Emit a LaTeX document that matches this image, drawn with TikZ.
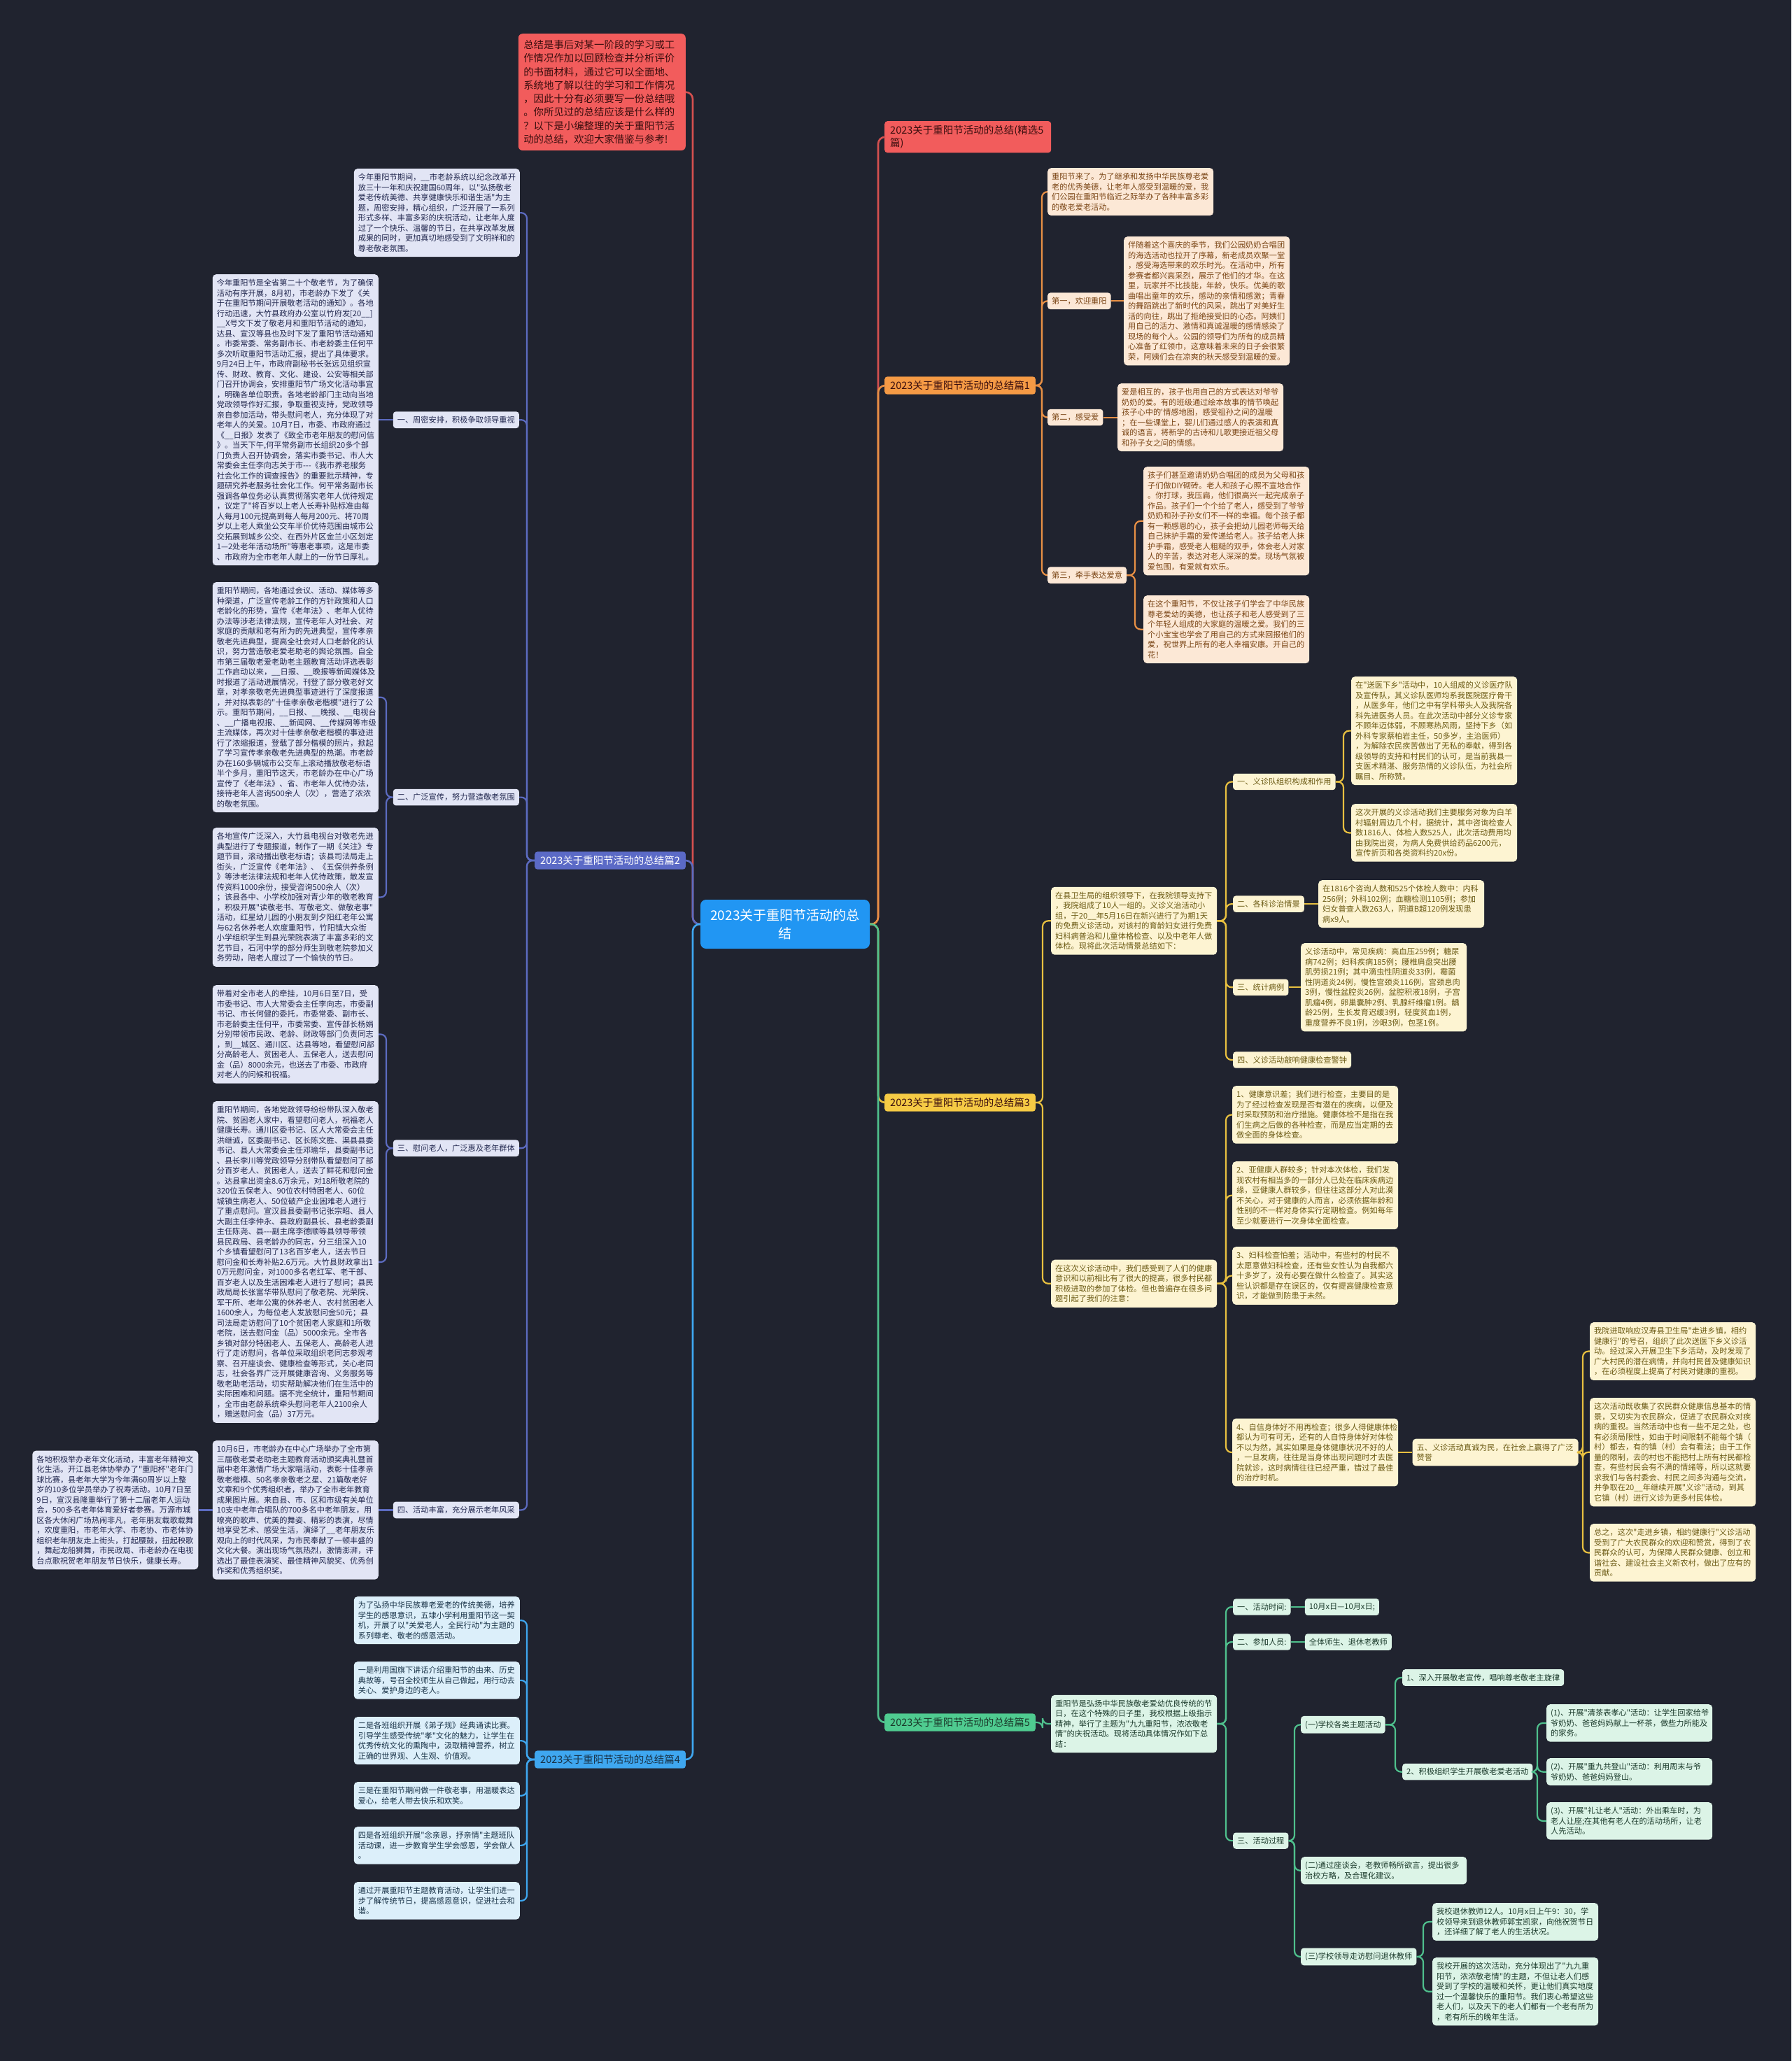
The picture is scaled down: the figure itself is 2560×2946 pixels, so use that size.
\documentclass[tikz,border=0pt]{standalone}
\usepackage{fontspec}
\newfontfamily\cjk{Noto Sans CJK SC}
\usetikzlibrary{calc}
\definecolor{bgc}{HTML}{20232F}
\definecolor{ccf}{HTML}{2196F3}
\definecolor{redf}{HTML}{F25C5C}
\definecolor{redt}{HTML}{3A0E0E}
\definecolor{redl}{HTML}{D4504F}
\definecolor{c2m}{HTML}{5B6AC6}
\definecolor{c2f}{HTML}{E2E5F5}
\definecolor{c2t}{HTML}{22284F}
\definecolor{c2l}{HTML}{5C6BC0}
\definecolor{c4m}{HTML}{3FA7F0}
\definecolor{c4f}{HTML}{DCEFFA}
\definecolor{c4t}{HTML}{183247}
\definecolor{c4l}{HTML}{3FA7F0}
\definecolor{c1m}{HTML}{F59A45}
\definecolor{c1f}{HTML}{FCE8D6}
\definecolor{c1t}{HTML}{7A4515}
\definecolor{c1l}{HTML}{E89045}
\definecolor{c3m}{HTML}{F6CB45}
\definecolor{c3f}{HTML}{FDF4D2}
\definecolor{c3t}{HTML}{6B5A14}
\definecolor{c3l}{HTML}{E8C040}
\definecolor{c5m}{HTML}{4FCB90}
\definecolor{c5f}{HTML}{DCF4E7}
\definecolor{c5t}{HTML}{1B3A2B}
\definecolor{c5l}{HTML}{4FC08D}
\tikzset{
  tb/.style={rounded corners=5pt, inner xsep=6pt, inner ysep=7pt, text width=225pt, align=left, font=\cjk\fontsize{11.2}{14.5}\selectfont},
  lb/.style={rounded corners=4pt, inner xsep=6pt, inner ysep=6.5pt, align=left, font=\cjk\fontsize{11.2}{14.5}\selectfont},
  mb/.style={rounded corners=4pt, inner xsep=8pt, inner ysep=6pt, align=left, font=\cjk\fontsize{14.5}{18}\selectfont},
  rb/.style={rounded corners=6pt, fill=redf, text=redt, inner xsep=7.5pt, inner ysep=9pt, text width=224pt, align=left, font=\cjk\fontsize{14.4}{19.3}\selectfont},
  g2/.style={fill=c2f, text=c2t},
  g4/.style={fill=c4f, text=c4t},
  g1/.style={fill=c1f, text=c1t},
  g3/.style={fill=c3f, text=c3t},
  g5/.style={fill=c5f, text=c5t},
  cn/.style={line width=2.2pt, rounded corners=8pt},
  mcn/.style={line width=2.6pt, rounded corners=10pt},
}
\newcommand{\lconn}[4]{\draw[#4] (#1.west) -- (#1.west -| #3) -- (#2.east -| #3) -- (#2.east);}
\newcommand{\rconn}[4]{\draw[#4] (#1.east) -- (#1.east -| #3) -- (#2.west -| #3) -- (#2.west);}
\begin{document}
\begin{tikzpicture}[x=1pt,y=-1pt]
\fill[bgc] (0,0) rectangle (2560,2946);
\useasboundingbox (0,0) rectangle (2560,2946);
% bus coordinates
\coordinate (LB) at (990,0);
\coordinate (RB) at (1255,0);
\coordinate (B2) at (753,0);
\coordinate (B2s) at (552,0);
\coordinate (B4) at (753,0);
\coordinate (B1) at (1489,0);
\coordinate (B1c) at (1622,0);
\coordinate (XL1) at (1497,0);
\coordinate (B3) at (1490,0);
\coordinate (XA) at (1502,0);
\coordinate (B3a) at (1752,0);
\coordinate (XL3) at (1762,0);
\coordinate (B3a1) at (1920,0);
\coordinate (B3e) at (2262,0);
\coordinate (B5m) at (1490,0);
\coordinate (B5) at (1752,0);
\coordinate (B5c) at (1850,0);
\coordinate (X5c) at (1859,0);
\coordinate (B5c1) at (1994,0);
\coordinate (X5c1) at (2004,0);
\coordinate (B5p) at (2197,0);
\coordinate (B5h) at (2034,0);

% ---------- center ----------
\node[fill=ccf, text=white, rounded corners=8pt, minimum width=242pt, minimum height=70pt, align=center, font=\cjk\fontsize{19}{26}\selectfont] (c) at (1122,1321) {2023关于重阳节活动的总\\结};

% ---------- red intro (left) ----------
\node[rb, anchor=north east] (n0) at (980,48) {总结是事后对某一阶段的学习或工\\作情况作加以回顾检查并分析评价\\的书面材料，通过它可以全面地、\\系统地了解以往的学习和工作情况\\，因此十分有必须要写一份总结哦\\。你所见过的总结应该是什么样的\\？以下是小编整理的关于重阳节活\\动的总结，欢迎大家借鉴与参考!};

% ---------- 篇2 ----------
\node[mb, fill=c2m, text=white, anchor=west] (n2) at (764,1230) {2023关于重阳节活动的总结篇2};
\node[tb,g2,anchor=north east] (n2i) at (743,241) {今年重阳节期间，\_\_市老龄系统以纪念改革开\\放三十一年和庆祝建国60周年，以"弘扬敬老\\爱老传统美德、共享健康快乐和谐生活"为主\\题，周密安排，精心组织，广泛开展了一系列\\形式多样、丰富多彩的庆祝活动，让老年人度\\过了一个快乐、温馨的节日，在共享改革发展\\成果的同时，更加真切地感受到了文明祥和的\\尊老敬老氛围。};
\node[tb,g2,anchor=north east] (n2a1) at (541,392) {今年重阳节是全省第二十个敬老节，为了确保\\活动有序开展，8月初，市老龄办下发了《关\\于在重阳节期间开展敬老活动的通知》。各地\\行动迅速，大竹县政府办公室以竹府发[20\_\_]\\\_\_X号文下发了敬老月和重阳节活动的通知，\\达县、宣汉等县也及时下发了重阳节活动通知\\。市委常委、常务副市长、市老龄委主任何平\\多次听取重阳节活动汇报，提出了具体要求。\\9月24日上午，市政府副秘书长张远见组织宣\\传、财政、教育、文化、建设、公安等相关部\\门召开协调会，安排重阳节广场文化活动事宜\\，明确各单位职责。各地老龄部门主动向当地\\党政领导作好汇报，争取重视支持，党政领导\\亲自参加活动，带头慰问老人，充分体现了对\\老年人的关爱。10月7日，市委、市政府通过\\《\_\_日报》发表了《致全市老年朋友的慰问信\\》。当天下午,何平常务副市长组织20多个部\\门负责人召开协调会，落实市委书记、市人大\\常委会主任李向志关于市---《我市养老服务\\社会化工作的调查报告》的重要批示精神，专\\题研究养老服务社会化工作。何平常务副市长\\强调各单位务必认真贯彻落实老年人优待规定\\，议定了"将百岁以上老人长寿补贴标准由每\\人每月100元提高到每人每月200元、将70周\\岁以上老人乘坐公交车半价优待范围由城市公\\交拓展到城乡公交、在西外片区金兰小区划定\\1—2处老年活动场所"等惠老事项，这是市委\\、市政府为全市老年人献上的一份节日厚礼。};
\node[lb,g2,anchor=east] (n2a) at ($(n2a1.east)+(201,0)$) {一、周密安排，积极争取领导重视};
\node[tb,g2,anchor=north east] (n2b1) at (541,832) {重阳节期间，各地通过会议、活动、媒体等多\\种渠道，广泛宣传老龄工作的方针政策和人口\\老龄化的形势，宣传《老年法》、老年人优待\\办法等涉老法律法规，宣传老年人对社会、对\\家庭的贡献和老有所为的先进典型，宣传孝亲\\敬老先进典型，提高全社会对人口老龄化的认\\识，努力营造敬老爱老助老的舆论氛围。自全\\市第三届敬老爱老助老主题教育活动评选表彰\\工作启动以来，\_\_日报、\_\_晚报等新闻媒体及\\时报道了活动进展情况，刊登了部分敬老好文\\章，对孝亲敬老先进典型事迹进行了深度报道\\，并对拟表彰的"十佳孝亲敬老楷模"进行了公\\示。重阳节期间，\_\_日报、\_\_晚报、\_\_电视台\\、\_\_广播电视报、\_\_新闻网、\_\_传媒网等市级\\主流媒体，再次对十佳孝亲敬老楷模的事迹进\\行了浓缩报道，登载了部分楷模的照片，掀起\\了学习宣传孝亲敬老先进典型的热潮。市老龄\\办在160多辆城市公交车上滚动播放敬老标语\\半个多月，重阳节这天，市老龄办在中心广场\\宣传了《老年法》、省、市老年人优待办法，\\接待老年人咨询500余人（次），营造了浓浓\\的敬老氛围。};
\node[tb,g2,anchor=north east] (n2b2) at (541,1183) {各地宣传广泛深入，大竹县电视台对敬老先进\\典型进行了专题报道，制作了一期《关注》专\\题节目，滚动播出敬老标语；该县司法局走上\\街头，广泛宣传《老年法》、《五保供养条例\\》等涉老法律法规和老年人优待政策，散发宣\\传资料1000余份，接受咨询500余人（次）\\；该县各中、小学校加强对青少年的敬老教育\\，积极开展"读敬老书、写敬老文、做敬老事"\\活动，红星幼儿园的小朋友到夕阳红老年公寓\\与62名休养老人欢度重阳节，竹阳镇大众街\\小学组织学生到县光荣院表演了丰富多彩的文\\艺节目，石河中学的部分师生到敬老院参加义\\务劳动，陪老人度过了一个愉快的节日。};
\coordinate (m2b) at ($(n2b1.east)!0.5!(n2b2.east)$);
\node[lb,g2,anchor=east] (n2b) at ($(m2b)+(201,0)$) {二、广泛宣传，努力营造敬老氛围};
\node[tb,g2,anchor=north east] (n2c1) at (541,1408) {带着对全市老人的牵挂，10月6日至7日，受\\市委书记、市人大常委会主任李向志，市委副\\书记、市长何健的委托，市委常委、副市长、\\市老龄委主任何平，市委常委、宣传部长杨娟\\分别带领市民政、老龄、财政等部门负责同志\\，到\_\_城区、通川区、达县等地，看望慰问部\\分高龄老人、贫困老人、五保老人，送去慰问\\金（品）8000余元，也送去了市委、市政府\\对老人的问候和祝福。};
\node[tb,g2,anchor=north east] (n2c2) at (541,1574) {重阳节期间，各地党政领导纷纷带队深入敬老\\院、贫困老人家中，看望慰问老人，祝福老人\\健康长寿。通川区委书记、区人大常委会主任\\洪继诚，区委副书记、区长陈文胜、渠县县委\\书记、县人大常委会主任邓瑜华，县委副书记\\、县长李川等党政领导分别带队看望慰问了部\\分百岁老人、贫困老人，送去了鲜花和慰问金\\。达县拿出资金8.6万余元，对18所敬老院的\\320位五保老人、90位农村特困老人、60位\\城镇生病老人、50位破产企业困难老人进行\\了重点慰问。宣汉县县委副书记张宗昭、县人\\大副主任李仲永、县政府副县长、县老龄委副\\主任陈尧、县---副主席李德顺等县领导带领\\县民政局、县老龄办的同志，分三组深入10\\个乡镇看望慰问了13名百岁老人，送去节日\\慰问金和长寿补贴2.6万元。大竹县财政拿出1\\0万元慰问金，对1000多名老红军、老干部、\\百岁老人以及生活困难老人进行了慰问；县民\\政局局长张富华带队慰问了敬老院、光荣院、\\军干所、老年公寓的休养老人、农村贫困老人\\1600余人，为每位老人发放慰问金50元；县\\司法局走访慰问了10个贫困老人家庭和1所敬\\老院，送去慰问金（品）5000余元。全市各\\乡镇对部分特困老人、五保老人、高龄老人进\\行了走访慰问，各单位采取组织老同志参观考\\察、召开座谈会、健康检查等形式，关心老同\\志，社会各界广泛开展健康咨询、义务服务等\\敬老助老活动，切实帮助解决他们在生活中的\\实际困难和问题。据不完全统计，重阳节期间\\，全市由老龄系统牵头慰问老年人2100余人\\，赠送慰问金（品）37万元。};
\coordinate (m2c) at ($(n2c1.east)!0.5!(n2c2.east)$);
\node[lb,g2,anchor=east] (n2c) at ($(m2c)+(201,0)$) {三、慰问老人，广泛惠及老年群体};
\node[tb,g2,anchor=north east] (n2d1) at (541,2059) {10月6日，市老龄办在中心广场举办了全市第\\三届敬老爱老助老主题教育活动颁奖典礼暨首\\届中老年激情广场大家唱活动，表彰十佳孝亲\\敬老楷模、50名孝亲敬老之星、21篇敬老好\\文章和9个优秀组织者，举办了全市老年教育\\成果图片展。来自县、市、区和市级有关单位\\10支中老年合唱队的700多名中老年朋友，用\\嘹亮的歌声、优美的舞姿、精彩的表演，尽情\\地享受艺术、感受生活，演绎了\_\_老年朋友乐\\观向上的时代风采，为市民奉献了一顿丰盛的\\文化大餐。演出现场气氛热烈，激情澎湃，评\\选出了最佳表演奖、最佳精神风貌奖、优秀创\\作奖和优秀组织奖。};
\node[tb,g2,anchor=east] (n2d2) at ($(n2d1.west)+(-20,0)$) {各地积极举办老年文化活动，丰富老年精神文\\化生活。开江县老体协举办了"重阳杯"老年门\\球比赛，县老年大学为今年满60周岁以上整\\岁的10多位学员举办了祝寿活动。10月7日至\\9日，宣汉县隆重举行了第十二届老年人运动\\会，500多名老年体育爱好者参赛。万源市城\\区各大休闲广场热闹非凡，老年朋友载歌载舞\\，欢度重阳，市老年大学、市老协、市老体协\\组织老年朋友走上街头，打起腰鼓，扭起秧歌\\，舞起龙船狮舞，市民政局、市老龄办在电视\\台点歌祝贺老年朋友节日快乐，健康长寿。};
\node[lb,g2,anchor=east] (n2d) at ($(n2d1.east)+(201,0)$) {四、活动丰富，充分展示老年风采};

% ---------- 篇4 ----------
\node[mb, fill=c4m, text=c4t, anchor=west] (n4) at (764,2515) {2023关于重阳节活动的总结篇4};
\node[tb,g4,anchor=north east] (n4a) at (743,2282) {为了弘扬中华民族尊老爱老的传统美德，培养\\学生的感恩意识，五埭小学利用重阳节这一契\\机，开展了以"关爱老人，全民行动"为主题的\\系列尊老、敬老的感恩活动。};
\node[tb,g4,anchor=north east] (n4b) at (743,2375) {一是利用国旗下讲话介绍重阳节的由来、历史\\典故等，号召全校师生从自己做起，用行动去\\关心、爱护身边的老人。};
\node[tb,g4,anchor=north east] (n4c) at (743,2454) {二是各班组织开展《弟子规》经典诵读比赛。\\引导学生感受传统"孝"文化的魅力，让学生在\\优秀传统文化的熏陶中，汲取精神营养，树立\\正确的世界观、人生观、价值观。};
\node[tb,g4,anchor=north east] (n4d) at (743,2547) {三是在重阳节期间做一件敬老事，用温暖表达\\爱心，给老人带去快乐和欢笑。};
\node[tb,g4,anchor=north east] (n4e) at (743,2611) {四是各班组织开展"念亲恩，抒亲情"主题班队\\活动课，进一步教育学生学会感恩，学会做人\\。};
\node[tb,g4,anchor=north east] (n4f) at (743,2690) {通过开展重阳节主题教育活动，让学生们进一\\步了解传统节日，提高感恩意识，促进社会和\\谐。};

% ---------- right: 精选 ----------
\node[mb, fill=redf, text=redt, anchor=north west, text width=222pt] (n0r) at (1264,173) {2023关于重阳节活动的总结(精选5\\篇)};

% ---------- 篇1 ----------
\node[mb, fill=c1m, text=redt, anchor=west] (n1) at (1264,551) {2023关于重阳节活动的总结篇1};
\node[tb,g1,anchor=north west] (n1i) at (1497,240) {重阳节来了。为了继承和发扬中华民族尊老爱\\老的优秀美德，让老年人感受到温暖的爱，我\\们公园在重阳节临近之际举办了各种丰富多彩\\的敬老爱老活动。};
\node[tb,g1,anchor=north west] (n1a1) at (1606,338) {伴随着这个喜庆的季节，我们公园奶奶合唱团\\的海选活动也拉开了序幕，新老成员欢聚一堂\\，感受海选带来的欢乐时光。在活动中，所有\\参赛者都兴高采烈，展示了他们的才华。在这\\里，玩家并不比技能，年龄，快乐。优美的歌\\曲唱出童年的欢乐，感动的亲情和感激；青春\\的舞蹈跳出了新时代的风采，跳出了对美好生\\活的向往，跳出了拒绝接受旧的心态。阿姨们\\用自己的活力、激情和真诚温暖的感情感染了\\现场的每个人。公园的领导们为所有的成员精\\心准备了红领巾，这意味着未来的日子会很繁\\荣，阿姨们会在凉爽的秋天感受到温暖的爱。};
\node[lb,g1,anchor=west] (n1a) at (n1a1.west -| XL1) {第一，欢迎重阳};
\node[tb,g1,anchor=north west] (n1b1) at (1597,548) {爱是相互的，孩子也用自己的方式表达对爷爷\\奶奶的爱。有的班级通过绘本故事的情节唤起\\孩子心中的'情感地图，感受祖孙之间的温暖\\；在一些课堂上，婴儿们通过感人的表演和真\\诚的语言，将新学的古诗和儿歌更接近祖父母\\和孙子女之间的情感。};
\node[lb,g1,anchor=west] (n1b) at (n1b1.west -| XL1) {第二，感受爱};
\node[tb,g1,anchor=north west] (n1c1) at (1634,667) {孩子们甚至邀请奶奶合唱团的成员为父母和孩\\子们做DIY砌砖。老人和孩子心照不宣地合作\\。你打球，我压扁，他们很高兴一起完成亲子\\作品。孩子们一个个给了老人，感受到了爷爷\\奶奶和孙子孙女们不一样的幸福。每个孩子都\\有一颗感恩的心，孩子会把幼儿园老师每天给\\自己抹护手霜的爱传递给老人。孩子给老人抹\\护手霜，感受老人粗糙的双手，体会老人对家\\人的辛苦，表达对老人深深的爱。现场气氛被\\爱包围，有爱就有欢乐。};
\node[tb,g1,anchor=north west] (n1c2) at (1634,851) {在这个重阳节，不仅让孩子们学会了中华民族\\尊老爱幼的美德，也让孩子和老人感受到了三\\个年轻人组成的大家庭的温暖之爱。我们的三\\个小宝宝也学会了用自己的方式来回报他们的\\爱，祝世界上所有的老人幸福安康。开自己的\\花！};
\coordinate (m1c) at ($(n1c1.west)!0.5!(n1c2.west)$);
\node[lb,g1,anchor=west] (n1c) at (m1c -| XL1) {第三，牵手表达爱意};

% ---------- 篇3 ----------
\node[mb, fill=c3m, text=redt, anchor=west] (n3) at (1264,1576) {2023关于重阳节活动的总结篇3};
\node[tb,g3,anchor=north west] (n3a1a) at (1931,967) {在"送医下乡"活动中，10人组成的义诊医疗队\\及宣传队，其义诊队医师均系我医院医疗骨干\\，从医多年，他们之中有学科带头人及我院各\\科先进医务人员。在此次活动中部分义诊专家\\不顾年迈体弱，不顾寒热风雨，坚持下乡（如\\外科专家蔡柏岩主任，50多岁，主治医师）\\，为解除农民疾苦做出了无私的奉献，得到各\\级领导的支持和村民们的认可，是当前我县一\\支医术精湛、服务热情的义诊队伍，为社会所\\瞩目、所称赞。};
\node[tb,g3,anchor=north west] (n3a1b) at (1931,1149) {这次开展的义诊活动我们主要服务对象为白羊\\村辐射周边几个村，据统计，其中咨询检查人\\数1816人、体检人数525人，此次活动费用均\\由我院出资，为病人免费供给药品6200元，\\宣传折页和各类资料约20x份。};
\coordinate (m3a1) at ($(n3a1a.west)!0.5!(n3a1b.west)$);
\node[lb,g3,anchor=west] (n3a1) at (m3a1 -| XL3) {一、义诊队组织构成和作用};
\node[tb,g3,anchor=north west] (n3a2a) at (1884,1258) {在1816个咨询人数和525个体检人数中：内科\\256例；外科102例；血糖检测1105例；参加\\妇女普查人数263人，阴道B超120例发现患\\病x9人。};
\node[lb,g3,anchor=west] (n3a2) at (n3a2a.west -| XL3) {二、各科诊治情景};
\node[tb,g3,anchor=north west] (n3a3a) at (1859,1348) {义诊活动中，常见疾病：高血压259例；糖尿\\病742例；妇科疾病185例；腰椎肩盘突出腰\\肌劳损21例；其中滴虫性阴道炎33例，霉菌\\性阴道炎24例，慢性宫颈炎116例，宫颈息肉\\3例，慢性盆腔炎26例，盆腔积液18例，子宫\\肌瘤4例，卵巢囊肿2例、乳腺纤维瘤1例。龋\\龄25例，生长发育迟缓3例，轻度贫血1例，\\重度营养不良1例，沙眼3例，包茎1例。};
\node[lb,g3,anchor=west] (n3a3) at (n3a3a.west -| XL3) {三、统计病例};
\node[lb,g3,anchor=west] (n3a4) at (1762,1515) {四、义诊活动敲响健康检查警钟};
\coordinate (m3a) at ($(n3a1.west)!0.5!(n3a4.west)$);
\node[tb,g3,anchor=west] (n3a) at (m3a -| XA) {在县卫生局的组织领导下，在我院领导支持下\\，我院组成了10人一组的。义诊义治活动小\\组，于20\_\_年5月16日在新兴进行了为期1天\\的免费义诊活动，对该村的育龄妇女进行免费\\妇科病普治和儿童体格检查、以及中老年人做\\体检。现将此次活动情景总结如下：};

\node[tb,g3,anchor=north west] (n3d1) at (1761,1552) {1、健康意识差；我们进行检查，主要目的是\\为了经过检查发现是否有潜在的疾病，以便及\\时采取预防和治疗措施。健康体检不是指在我\\们生病之后做的各种检查，而是应当定期的去\\做全面的身体检查。};
\node[tb,g3,anchor=north west] (n3d2) at (1761,1660) {2、亚健康人群较多；针对本次体检，我们发\\现农村有相当多的一部分人已处在临床疾病边\\缘，亚健康人群较多，但往往这部分人对此漠\\不关心，对于健康的人而言，必须依据年龄和\\性别的不一样对身体实行定期检查。例如每年\\至少就要进行一次身体全面检查。};
\node[tb,g3,anchor=north west] (n3d3) at (1761,1782) {3、妇科检查怕羞；活动中，有些村的村民不\\太愿意做妇科检查，还有些女性认为自我都六\\十多岁了，没有必要在做什么检查了。其实这\\些认识都是存在误区的，仅有提高健康检查意\\识，才能做到防患于未然。};
\node[tb,g3,anchor=west] (n3d4) at (1761,2076) {4、自信身体好不用再检查；很多人得健康体检\\都认为可有可无，还有的人自恃身体好对体检\\不以为然，其实如果是身体健康状况不好的人\\，一旦发病，往往是当身体出现问题时才去医\\院就诊，这时病情往往已经严重，错过了最佳\\的治疗时机。};
\coordinate (m3b) at ($(n3d1.west)!0.5!(n3d4.west)$);
\node[tb,g3,anchor=west] (n3b) at (m3b -| XA) {在这次义诊活动中，我们感受到了人们的健康\\意识和以前相比有了很大的提高，很多村民都\\积极进取的参加了体检。但也普遍存在很多问\\题引起了我们的注意：};
\node[tb,g3,anchor=west] (n3e) at ($(n3d4.east)+(20,0)$) {五、义诊活动真诚为民，在社会上赢得了广泛\\赞誉};
\node[tb,g3,anchor=north west] (n3e1) at (2272,1890) {我院进取响应汉寿县卫生局"走进乡镇，相约\\健康行"的号召，组织了此次送医下乡义诊活\\动。经过深入开展卫生下乡活动，及时发现了\\广大村民的潜在病情，并向村民普及健康知识\\，在必须程度上提高了村民对健康的重视。};
\node[tb,g3,anchor=north west] (n3e2) at (2272,1998) {这次活动既收集了农民群众健康信息基本的情\\景，又切实为农民群众，促进了农民群众对疾\\病的重视。当然活动中也有一些不足之处，也\\有必须局限性，如由于时间限制不能每个镇（\\村）都去，有的镇（村）会有看法；由于工作\\量的限制，去的村也不能把村上所有村民都检\\查，有些村民会有不满的情绪等，所以这就要\\求我们与各村委会、村民之间多沟通与交流，\\并争取在20\_\_年继续开展"义诊"活动，到其\\它镇（村）进行义诊为更多村民体检。};
\node[tb,g3,anchor=north west] (n3e3) at (2272,2178) {总之，这次"走进乡镇，相约健康行"义诊活动\\受到了广大农民群众的欢迎和赞赏，得到了农\\民群众的认可，为保障人民群众健康、创立和\\谐社会、建设社会主义新农村，做出了应有的\\贡献。};

% ---------- 篇5 ----------
\node[mb, fill=c5m, text=c5t, anchor=west] (n5) at (1264,2462) {2023关于重阳节活动的总结篇5};
\node[lb,g5,anchor=west] (n5a) at (1762,2297) {一、活动时间:};
\node[lb,g5,anchor=west] (n5a1) at ($(n5a.east)+(20,0)$) {10月x日—10月x日;};
\node[lb,g5,anchor=west] (n5b) at (1762,2347) {二、参加人员:};
\node[lb,g5,anchor=west] (n5b1) at ($(n5b.east)+(20,0)$) {全体师生、退休老教师};
\node[tb,g5,anchor=north west] (n5p1) at (2210,2436) {(1)、开展"清茶表孝心"活动：让学生回家给爷\\爷奶奶、爸爸妈妈献上一杯茶，做些力所能及\\的家务。};
\node[tb,g5,anchor=north west] (n5p2) at (2210,2513) {(2)、开展"重九共登山"活动：利用周末与爷\\爷奶奶、爸爸妈妈登山。};
\node[tb,g5,anchor=north west] (n5p3) at (2210,2576) {(3)、开展"礼让老人"活动：外出乘车时，为\\老人让座;在其他有老人在的活动场所，让老\\人先活动。};
\node[lb,g5,anchor=west] (n5c1b) at (n5p2.west -| X5c1) {2、积极组织学生开展敬老爱老活动};
\node[lb,g5,anchor=west] (n5c1a) at (2004,2398) {1、深入开展敬老宣传，唱响尊老敬老主旋律};
\coordinate (m5c1) at ($(n5c1a.west)!0.5!(n5c1b.west)$);
\node[lb,g5,anchor=west] (n5c1) at (m5c1 -| X5c) {(一)学校各类主题活动};
\node[tb,g5,anchor=north west] (n5c2) at (1859,2654) {(二)通过座谈会，老教师畅所欲言，提出很多\\治校方略，及合理化建议。};
\node[tb,g5,anchor=north west] (n5h1) at (2047,2720) {我校退休教师12人。10月x日上午9：30，学\\校领导来到退休教师郭宝凯家，向他祝贺节日\\，还详细了解了老人的生活状况。};
\node[tb,g5,anchor=north west] (n5h2) at (2047,2798) {我校开展的这次活动，充分体现出了"九九重\\阳节，浓浓敬老情"的主题，不但让老人们感\\受到了学校的温暖和关怀，更让他们真实地度\\过一个温馨快乐的重阳节。我们衷心希望这些\\老人们，以及天下的老人们都有一个老有所为\\，老有所乐的晚年生活。};
\coordinate (m5h) at ($(n5h1.west)!0.5!(n5h2.west)$);
\node[lb,g5,anchor=west] (n5c3) at (m5h -| X5c) {(三)学校领导走访慰问退休教师};
\coordinate (m5c) at ($(n5c1.west)!0.5!(n5c3.west)$);
\node[lb,g5,anchor=west] (n5c) at (m5c -| XL3) {三、活动过程};
\coordinate (m5i) at ($(n5a.west)!0.5!(n5c.west)$);
\node[tb,g5,anchor=west] (n5i) at (m5i -| XA) {重阳节是弘扬中华民族敬老爱幼优良传统的节\\日，在这个特殊的日子里，我校根据上级指示\\精神，举行了主题为"九九重阳节，浓浓敬老\\情"的庆祝活动。现将活动具体情况作如下总\\结：};

% ================= connectors =================
% center -> main branches
\lconn{c}{n0}{LB}{mcn,redl}
\lconn{c}{n2}{LB}{mcn,c2l}
\lconn{c}{n4}{LB}{mcn,c4l}
\rconn{c}{n0r}{RB}{mcn,redl}
\rconn{c}{n1}{RB}{mcn,c1l}
\rconn{c}{n3}{RB}{mcn,c3l}
\rconn{c}{n5}{RB}{mcn,c5l}
% 篇2
\lconn{n2}{n2i}{B2}{cn,c2l}
\lconn{n2}{n2a}{B2}{cn,c2l}
\lconn{n2}{n2b}{B2}{cn,c2l}
\lconn{n2}{n2c}{B2}{cn,c2l}
\lconn{n2}{n2d}{B2}{cn,c2l}
\draw[cn,c2l] (n2a.west) -- (n2a1.east);
\lconn{n2b}{n2b1}{B2s}{cn,c2l}
\lconn{n2b}{n2b2}{B2s}{cn,c2l}
\lconn{n2c}{n2c1}{B2s}{cn,c2l}
\lconn{n2c}{n2c2}{B2s}{cn,c2l}
\draw[cn,c2l] (n2d.west) -- (n2d1.east);
\draw[cn,c2l] (n2d1.west) -- (n2d2.east);
% 篇4
\lconn{n4}{n4a}{B4}{cn,c4l}
\lconn{n4}{n4b}{B4}{cn,c4l}
\lconn{n4}{n4c}{B4}{cn,c4l}
\lconn{n4}{n4d}{B4}{cn,c4l}
\lconn{n4}{n4e}{B4}{cn,c4l}
\lconn{n4}{n4f}{B4}{cn,c4l}
% 篇1
\rconn{n1}{n1i}{B1}{cn,c1l}
\rconn{n1}{n1a}{B1}{cn,c1l}
\rconn{n1}{n1b}{B1}{cn,c1l}
\rconn{n1}{n1c}{B1}{cn,c1l}
\draw[cn,c1l] (n1a.east) -- (n1a1.west);
\draw[cn,c1l] (n1b.east) -- (n1b1.west);
\rconn{n1c}{n1c1}{B1c}{cn,c1l}
\rconn{n1c}{n1c2}{B1c}{cn,c1l}
% 篇3
\rconn{n3}{n3a}{B3}{cn,c3l}
\rconn{n3}{n3b}{B3}{cn,c3l}
\rconn{n3a}{n3a1}{B3a}{cn,c3l}
\rconn{n3a}{n3a2}{B3a}{cn,c3l}
\rconn{n3a}{n3a3}{B3a}{cn,c3l}
\rconn{n3a}{n3a4}{B3a}{cn,c3l}
\rconn{n3a1}{n3a1a}{B3a1}{cn,c3l}
\rconn{n3a1}{n3a1b}{B3a1}{cn,c3l}
\draw[cn,c3l] (n3a2.east) -- (n3a2a.west);
\draw[cn,c3l] (n3a3.east) -- (n3a3a.west);
\rconn{n3b}{n3d1}{B3a}{cn,c3l}
\rconn{n3b}{n3d2}{B3a}{cn,c3l}
\rconn{n3b}{n3d3}{B3a}{cn,c3l}
\rconn{n3b}{n3d4}{B3a}{cn,c3l}
\draw[cn,c3l] (n3d4.east) -- (n3e.west);
\rconn{n3e}{n3e1}{B3e}{cn,c3l}
\rconn{n3e}{n3e2}{B3e}{cn,c3l}
\rconn{n3e}{n3e3}{B3e}{cn,c3l}
% 篇5
\rconn{n5}{n5i}{B5m}{cn,c5l}
\rconn{n5i}{n5a}{B5}{cn,c5l}
\rconn{n5i}{n5b}{B5}{cn,c5l}
\rconn{n5i}{n5c}{B5}{cn,c5l}
\draw[cn,c5l] (n5a.east) -- (n5a1.west);
\draw[cn,c5l] (n5b.east) -- (n5b1.west);
\rconn{n5c}{n5c1}{B5c}{cn,c5l}
\rconn{n5c}{n5c2}{B5c}{cn,c5l}
\rconn{n5c}{n5c3}{B5c}{cn,c5l}
\rconn{n5c1}{n5c1a}{B5c1}{cn,c5l}
\rconn{n5c1}{n5c1b}{B5c1}{cn,c5l}
\rconn{n5c1b}{n5p1}{B5p}{cn,c5l}
\rconn{n5c1b}{n5p2}{B5p}{cn,c5l}
\rconn{n5c1b}{n5p3}{B5p}{cn,c5l}
\rconn{n5c3}{n5h1}{B5h}{cn,c5l}
\rconn{n5c3}{n5h2}{B5h}{cn,c5l}
\end{tikzpicture}
\end{document}
